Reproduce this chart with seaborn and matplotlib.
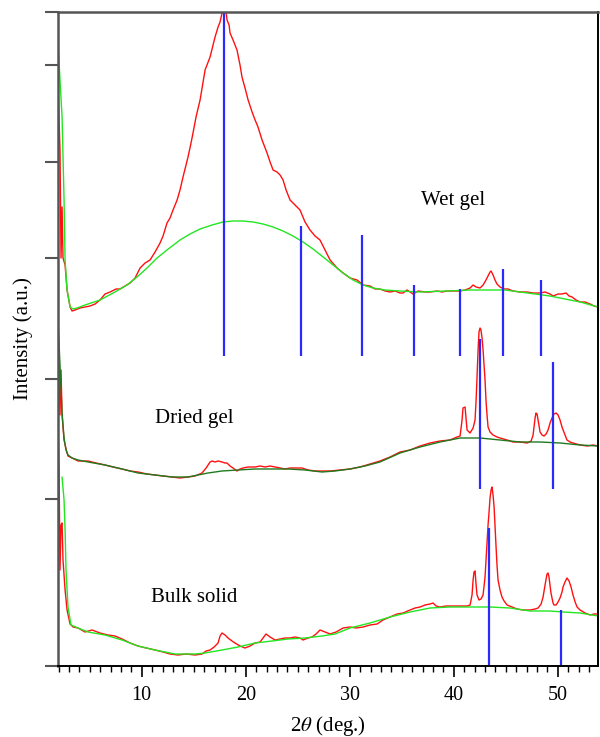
import matplotlib
matplotlib.use("Agg")
import matplotlib.pyplot as plt
from matplotlib.ticker import MultipleLocator, NullLocator
import seaborn as sns

# ---------------- data (2theta in degrees, intensity in a.u., stacked) ----------------
wet_red_x = [1.95,2.14,2.24,2.34,2.43,2.63,2.82,3.11,3.30,3.59,4.07,4.55,5.03,5.51,5.99,6.47,6.95,7.53,7.91,8.39,
             8.88,9.36,9.84,10.32,10.80,11.28,11.76,12.05,12.43,12.72,13.01,13.40,13.68,13.97,14.26,14.45,14.74,14.93,15.22,15.61,
             15.90,16.09,16.38,16.57,16.86,17.05,17.34,17.53,17.72,17.91,18.11,18.20,18.40,18.49,18.78,19.16,19.45,19.64,19.93,20.23,
             20.61,20.90,21.18,21.57,22.05,22.34,22.63,23.01,23.30,23.59,23.88,24.26,24.74,25.22,25.70,26.18,26.66,27.14,27.63,28.11,
             28.78,29.36,30.03,30.70,31.28,31.95,32.43,32.91,33.40,33.88,34.36,34.84,35.13,35.51,35.80,36.09,36.57,37.24,37.72,38.40,
             38.87,39.36,39.93,40.61,41.09,41.57,41.86,42.15,42.53,42.82,43.10,43.30,43.49,43.59,43.78,43.97,44.16,44.45,44.84,45.22,
             45.70,46.38,47.05,47.63,48.30,48.78,49.26,49.55,50.03,50.41,50.80,51.09,51.38,51.76,52.15,52.63,53.11,53.49,53.88]
wet_red_y = [579,516,408,459,408,401,376,359,355,356,358,359,360,362,366,372,374,377,377,380,
             383,388,398,403,406,414,423,430,443,448,456,466,476,489,501,509,523,533,549,566,
             584,596,604,609,621,629,639,644,653,656,654,646,641,633,626,616,601,589,578,566,
             554,546,539,526,513,504,496,494,491,486,476,466,461,456,444,436,430,426,416,406,
             398,393,388,386,381,380,377,377,375,374,375,373,373,376,374,372,375,374,374,375,
             374,375,375,375,376,378,381,379,378,381,386,390,394,395,391,386,382,379,377,377,
             375,374,374,373,373,374,372,370,372,372,373,370,369,366,364,364,362,360,359]

wet_bg_x = [1.95,2.14,2.34,2.53,2.63,2.82,3.11,3.40,3.78,4.55,5.99,7.43,8.59,9.55,10.51,11.47,12.43,13.68,14.64,15.61,
            16.76,17.82,18.78,19.74,20.71,21.66,22.63,23.59,24.55,25.51,26.47,27.44,28.40,29.36,30.32,31.28,32.24,33.40,34.84,36.76,
            39.36,41.57,43.49,44.93,46.38,47.82,49.26,50.70,52.15,53.88]
wet_bg_y = [623,586,549,466,406,376,359,357,358,361,366,374,381,389,398,408,416,426,432,437,
            441,444,445,445,444,442,439,435,430,424,417,409,401,393,386,381,378,376,375,374,
            375,376,376,376,374,372,370,367,364,359]

dried_red_x = [1.95,2.05,2.14,2.24,2.34,2.53,2.72,2.91,3.30,3.88,4.84,5.61,6.47,7.24,8.11,8.88,9.64,10.51,11.28,12.05,
               12.91,13.68,14.45,15.13,15.80,16.19,16.57,16.76,17.05,17.34,17.72,18.01,18.20,18.49,18.78,19.16,19.45,19.74,20.23,20.90,
               21.38,21.86,22.34,22.82,23.30,23.78,24.26,24.84,25.41,25.99,26.66,27.34,28.11,29.07,30.03,30.99,31.95,32.91,33.88,34.84,
               35.80,36.76,37.72,38.68,39.64,40.32,40.61,40.80,40.89,41.09,41.18,41.28,41.57,41.86,42.05,42.15,42.24,42.34,42.43,42.53,
               42.62,42.72,42.82,43.01,43.10,43.20,43.30,43.49,43.78,44.16,44.45,45.13,45.70,46.38,47.05,47.44,47.63,47.82,47.91,48.01,
               48.11,48.30,48.49,48.68,48.88,49.07,49.26,49.45,49.64,49.84,50.03,50.22,50.41,50.70,50.89,51.18,51.47,52.15,52.82,53.40,
               53.88]
dried_red_y = [336,308,251,296,251,226,217,210,208,205,205,203,201,199,197,195,194,192,191,190,
               189,188,189,190,193,198,204,205,204,205,204,203,203,200,198,195,197,198,199,199,
               200,199,200,199,198,197,198,198,198,196,195,195,195,196,197,199,202,205,209,214,
               216,220,223,225,226,229,230,246,258,259,248,236,233,238,246,266,289,316,334,338,
               336,328,316,286,266,251,239,234,231,229,228,226,224,224,223,225,231,248,253,252,
               246,234,231,230,232,236,243,248,252,253,251,246,239,231,226,224,223,221,220,221,
               220]

dried_bg_x = [1.95,2.14,2.34,2.53,2.72,2.91,3.30,3.88,4.84,6.47,8.11,9.64,11.28,12.91,14.45,15.41,16.38,17.72,19.26,20.90,
              22.53,24.07,25.70,27.34,28.59,30.03,31.47,32.91,34.84,36.76,38.68,40.61,42.53,44.45,46.38,48.30,50.22,52.15,53.88]
dried_bg_y = [346,301,253,228,216,211,208,206,204,201,197,193,191,189,189,191,193,195,196,197,
              197,197,196,194,195,197,200,204,213,219,224,228,228,226,224,224,223,221,220]

bulk_red_x = [1.95,2.05,2.14,2.24,2.34,2.43,2.63,2.82,3.11,3.40,3.88,4.55,5.22,5.99,6.76,7.43,8.11,8.88,9.64,10.42,
              11.28,12.05,12.72,13.49,14.26,15.13,15.80,16.19,16.57,16.96,17.34,17.53,17.72,18.01,18.30,18.68,18.97,19.45,19.93,20.42,
              20.90,21.38,21.66,21.95,22.34,22.82,23.30,23.78,24.26,24.74,25.22,25.51,25.99,26.38,26.76,27.14,27.63,28.11,28.69,29.36,
              30.03,30.61,31.28,31.95,32.63,33.20,33.88,34.55,35.13,35.80,36.28,36.76,37.24,37.72,38.01,38.30,38.68,39.26,39.93,40.61,
              41.28,41.57,41.76,41.86,41.95,42.05,42.15,42.24,42.43,42.62,42.82,43.01,43.10,43.20,43.30,43.39,43.49,43.59,43.68,43.78,
              43.88,43.97,44.07,44.16,44.26,44.45,44.64,44.84,45.13,45.61,46.09,46.67,47.34,47.82,48.11,48.40,48.59,48.78,48.97,49.07,
              49.16,49.26,49.35,49.55,49.64,49.84,50.03,50.22,50.41,50.51,50.70,50.89,51.09,51.28,51.47,51.67,51.86,52.15,52.63,53.11,
              53.49,53.88]
bulk_red_y = [241,196,96,141,143,106,76,56,42,39,38,34,36,33,31,30,27,23,20,18,
              16,14,12,11,12,11,12,15,16,19,23,30,33,31,28,25,23,20,18,20,
              23,24,28,32,29,26,27,28,28,29,28,26,28,29,32,36,34,32,34,38,
              39,38,39,41,42,46,49,52,53,56,58,59,61,62,63,60,59,60,60,60,
              60,61,71,86,94,95,81,71,66,67,71,89,106,123,141,153,168,176,179,171,
              159,139,119,101,86,76,69,65,61,59,57,56,56,57,58,62,69,81,92,93,
              89,81,73,63,61,61,64,68,74,79,84,88,85,79,71,64,59,56,53,51,
              52,52]

bulk_bg_x = [2.34,2.53,2.63,2.72,2.91,3.20,3.88,4.84,6.47,8.11,9.64,11.28,13.20,15.13,16.09,17.72,19.26,20.90,22.53,24.07,
             25.70,27.34,28.59,30.03,31.95,33.88,35.80,37.72,39.64,41.57,43.49,45.41,47.34,49.26,50.51,52.15,53.88]
bulk_bg_y = [189,166,136,96,59,41,38,34,31,26,20,16,12,12,13,16,19,23,25,27,
             28,30,32,38,43,49,54,58,59,59,59,58,55,55,54,53,50]

# reference (stick) pattern positions and heights
wet_ref_x = [17.89, 25.32, 31.21, 36.15, 40.59, 44.70, 48.36]
wet_ref_top = [654, 440, 431, 381, 377, 397, 386]
wet_ref_base = 310
dried_ref_x = [42.50, 49.52]
dried_ref_top = [327, 304]
dried_ref_base = 177
bulk_ref_x = [43.36, 50.35]
bulk_ref_top = [138, 56]
bulk_ref_base = 0

labels = ["Wet gel", "Dried gel", "Bulk solid"]
label_x = [39.9, 15.05, 15.05]
label_y = [466, 248, 69]

y_ticks = [0, 167, 287, 408, 504, 601, 654]
x_ticks = [10, 20, 30, 40, 50]

# ---------------- style ----------------
sns.set_theme(style="ticks")
plt.rcParams["font.family"] = ["Liberation Serif", "DejaVu Serif"]
plt.rcParams["mathtext.fontset"] = "stix"

RED = "#ff1010"
LIME = "#22e622"
DARKGREEN = "#1f7a1f"
BLUE = "#2a2aff"

fig = plt.figure(figsize=(6.0, 7.37), dpi=100)
ax = fig.add_axes([57.7 / 600, 1 - 666 / 737, (598.3 - 57.7) / 600, (666 - 12) / 737])

series = [
    (wet_red_x, wet_red_y, wet_bg_x, wet_bg_y, LIME),
    (dried_red_x, dried_red_y, dried_bg_x, dried_bg_y, DARKGREEN),
    (bulk_red_x, bulk_red_y, bulk_bg_x, bulk_bg_y, LIME),
]
for rx, ry, gx, gy, gcol in series:
    sns.lineplot(x=rx, y=ry, ax=ax, color=RED, linewidth=1.0, sort=False, estimator=None)
    sns.lineplot(x=gx, y=gy, ax=ax, color=gcol, linewidth=1.0, sort=False, estimator=None)

for xs, tops, base in [(wet_ref_x, wet_ref_top, wet_ref_base),
                       (dried_ref_x, dried_ref_top, dried_ref_base),
                       (bulk_ref_x, bulk_ref_top, bulk_ref_base)]:
    ax.vlines(xs, base, tops, colors=BLUE, linewidth=1.6)

for t, tx, ty in zip(labels, label_x, label_y):
    ax.text(tx, ty, t, ha="center", va="center", fontsize=15, color="black")

ax.set_xlim(1.92, 53.9)
ax.set_ylim(0, 654)
ax.set_xticks(x_ticks)
ax.xaxis.set_minor_locator(MultipleLocator(1))
ax.set_yticks(y_ticks)
ax.set_yticklabels([])
ax.yaxis.set_minor_locator(NullLocator())

ax.tick_params(axis="x", which="major", direction="out", length=8, width=1.2,
               labelsize=14.5, pad=6.5, color="black", labelcolor="black")
ax.tick_params(axis="x", which="minor", direction="out", length=4, width=1.0, color="black")
ax.tick_params(axis="y", which="major", direction="out", length=9.5, width=1.5, color="#555555")

for side in ["left", "top"]:
    ax.spines[side].set_color("#555555")
    ax.spines[side].set_linewidth(1.8)
for side in ["bottom", "right"]:
    ax.spines[side].set_color("black")
    ax.spines[side].set_linewidth(1.4)

ax.set_xlabel(r"2$\theta$ (deg.)", fontsize=15, color="black")
ax.xaxis.set_label_coords(0.5, -0.074)
ax.set_ylabel("Intensity (a.u.)", fontsize=15, color="black")
ax.yaxis.set_label_coords(-0.046, 0.5)

fig.savefig("out.png", dpi=100)
